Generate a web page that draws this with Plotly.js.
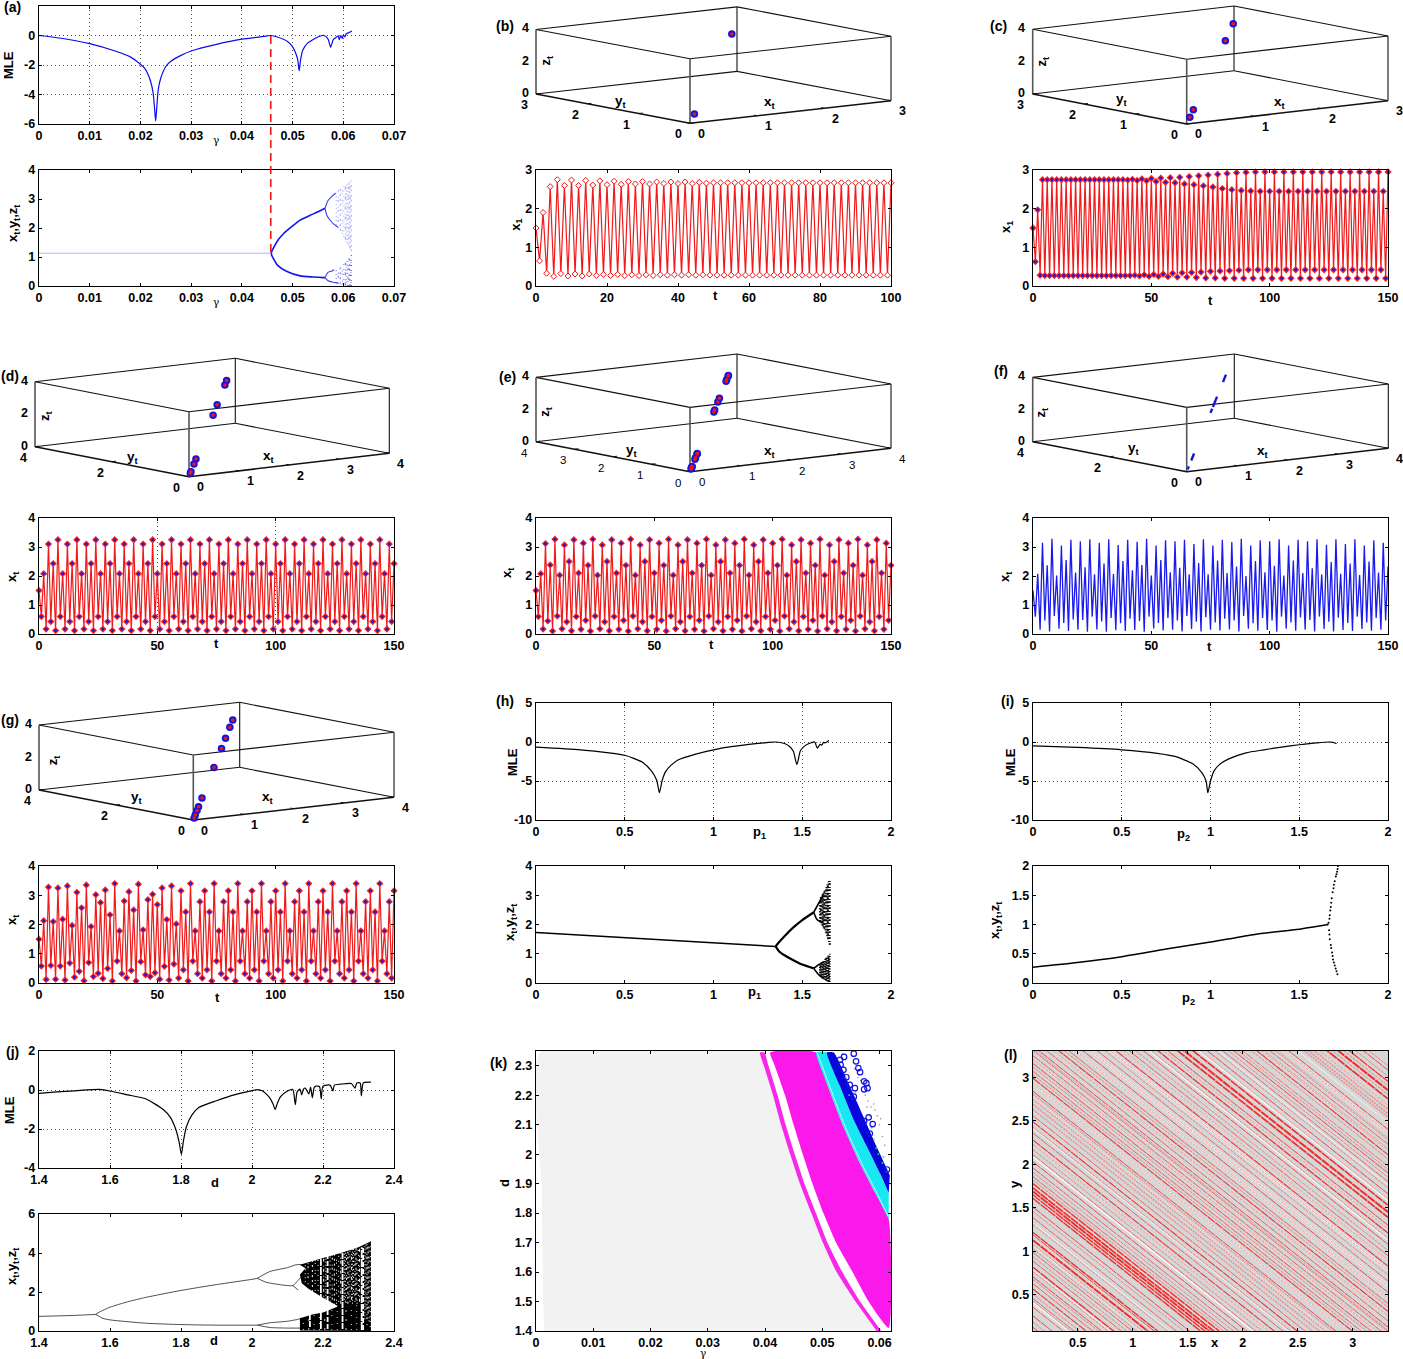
<!DOCTYPE html>
<html><head><meta charset="utf-8">
<script src="https://cdn.plot.ly/plotly-3.0.1.min.js"></script>
<style>html,body{margin:0;padding:0;background:#fff}</style></head>
<body><div id="chart" style="width:1403px;height:1359px"></div>
<script>
/* ===== values ===== */
const aMleG=[0,.005,.01,.015,.018,.02,.021,.0215,.022,.0225,.0228,.023,.0232,.0235,.024,.025,.026,.028,.03,.035,.04,.045,.0457,.047,.049,.05,.0505,.051,.0513,.0516,.052,.053,.055,.0562,.057,.0575,.058,.0585,.059,.0592,.0595,.0598,.06,.0603,.0606,.061,.0617];
const aMleV=[0,-.22,-.55,-1.05,-1.45,-1.95,-2.3,-2.65,-3.1,-3.9,-5,-5.8,-5,-3.7,-2.9,-2.1,-1.75,-1.35,-1.05,-.6,-.25,-.03,0,-.1,-.4,-.75,-1.1,-1.6,-2.4,-1.6,-1,-.5,-.1,0,-.25,-.8,-.3,-.15,-.02,-.3,0,-.2,.05,-.1,.12,.18,.3];
const aFixG=[0,.0458], aFixV=[1.13,1.13];
const aUpG=[.0458,.0459,.0462,.047,.0482,.05,.0515,.0535,.0548,.0564], aUpV=[1.13,1.2,1.3,1.55,1.8,2.07,2.27,2.44,2.54,2.68];
const aLoG=[.0458,.0459,.0462,.047,.0489,.0515,.054,.056,.0564], aLoV=[1.13,1.05,.95,.72,.5,.35,.31,.29,.29];
const aB1G=[.0564,.057,.0578,.0585], aB1V=[2.68,2.95,3.1,3.2];
const aB2G=[.0564,.0568,.0575,.058,.059], aB2V=[2.68,2.42,2.25,2.15,2.02];
const aB3G=[.0564,.057,.0578,.0582], aB3V=[.29,.47,.52,.56];
const aB4G=[.0564,.057,.058,.059], aB4V=[.29,.18,.13,.1];
const aColG=[.0586,.059,.0594,.0598,.0601,.0604,.0607,.0609,.0611,.0613,.0615,.0616];
const aColTop=[3.22,3.3,3.35,3.4,3.44,3.48,3.52,3.54,3.57,3.6,3.62,3.64];
const aColMid=[2.1,2,1.9,1.8,1.7,1.6,1.5,1.45,1.4,1.3,1.25,1.2];
const aColLoTop=[.58,.62,.68,.72,.76,.8,.85,.9,.95,1,1.05,1.1];
const aColBot=[.1,.08,.06,.05,.04,.02,.01,0,0,0,0,0];

const serB=[1.5,.65,1.9,.33,2.57,.25,2.75,.32,2.6,.26,2.74,.31,2.6,.26,2.73,.31,2.61,.27,2.72,.3,2.62,.27,2.71,.3,2.63,.27,2.7,.29,2.64,.27,2.7,.29,2.64,.27,2.69,.29,2.65,.28,2.69,.29,2.65,.28,2.69,.29,2.65,.28,2.68,.29,2.66,.28,
2.67,.28,2.67,.28,2.67,.28,2.67,.28,2.67,.28,2.67,.28,2.67,.28,2.67,.28,2.67,.28,2.67,.28,2.67,.28,2.67,.28,2.67,.28,2.67,.28,2.67,.28,2.67,.28,2.67,.28,2.67,.28,2.67,.28,2.67,.28,2.67,.28,2.67,.28,2.67,.28,2.67,.28,2.67,.28,2.67];
const serC=[1.5,.63,1.97,.28,2.75,.27,2.75,.27,2.75,.27,2.75,.27,2.75,.27,2.75,.27,2.75,.27,2.75,.27,2.75,.27,2.75,.27,2.75,.27,2.75,.27,2.75,.27,2.75,.27,2.75,.27,2.75,.27,2.75,.27,2.75,.27,
2.74,.27,2.76,.28,2.73,.26,2.77,.29,2.72,.25,2.78,.3,2.7,.25,2.79,.31,2.68,.24,2.8,.33,2.67,.23,2.81,.34,2.64,.23,2.83,.35,2.62,.22,2.85,.36,2.59,.21,2.87,.38,2.56,.21,2.89,.39,2.52,.2,2.91,.4,2.49,.2,2.93,.41,2.47,.2,2.94,.42,2.46,.2,2.95,.42,
2.45,.2,2.95,.42,2.45,.2,2.95,.42,2.45,.2,2.95,.42,2.45,.2,2.95,.42,2.45,.2,2.95,.42,2.45,.2,2.95,.42,2.45,.2,2.95,.42,2.45,.2,2.95,.42,2.45,.2,2.95,.42,2.45,.2,2.95,.42,2.45,.2,2.95,.42,2.45,.2,2.95,.42,2.45,.2,2.95,.42,2.45,.2,2.95];
const serD=[1.5,.6,2.08,.17,3.1,.43,2.43,.12,
3.25,.6,2.08,.17,3.1,.43,2.43,.12,3.25,.6,2.08,.17,3.1,.43,2.43,.12,3.25,.6,2.08,.17,3.1,.43,2.43,.12,3.25,.6,2.08,.17,3.1,.43,2.43,.12,3.25,.6,2.08,.17,3.1,.43,2.43,.12,3.25,.6,2.08,.17,3.1,.43,2.43,.12,
3.25,.6,2.08,.17,3.1,.43,2.43,.12,3.25,.6,2.08,.17,3.1,.43,2.43,.12,3.25,.6,2.08,.17,3.1,.43,2.43,.12,3.25,.6,2.08,.17,3.1,.43,2.43,.12,3.25,.6,2.08,.17,3.1,.43,2.43,.12,3.25,.6,2.08,.17,3.1,.43,2.43,.12,
3.25,.6,2.08,.17,3.1,.43,2.43,.12,3.25,.6,2.08,.17,3.1,.43,2.43,.12,3.25,.6,2.08,.17,3.1,.43,2.43,.12,3.25,.6,2.08,.17,3.1,.43,2.43,.12,3.25,.6,2.08,.17,3.1,.43,2.43,.12,3.25,.6,2.08,.17,3.1,.43,2.43];
const serE=[1.5,.6,2.08,.17,3.12,.45,2.38,.1,
3.27,.62,2.03,.18,3.07,.42,2.5,.11,3.25,.6,2.1,.16,3.13,.47,2.37,.1,3.27,.62,2.03,.18,3.07,.42,2.5,.11,3.25,.6,2.1,.16,3.13,.47,2.37,.1,3.27,.62,2.03,.18,3.07,.42,2.5,.11,3.25,.6,2.1,.16,3.13,.47,2.37,.1,
3.27,.62,2.03,.18,3.07,.42,2.5,.11,3.25,.6,2.1,.16,3.13,.47,2.37,.1,3.27,.62,2.03,.18,3.07,.42,2.5,.11,3.25,.6,2.1,.16,3.13,.47,2.37,.1,3.27,.62,2.03,.18,3.07,.42,2.5,.11,3.25,.6,2.1,.16,3.13,.47,2.37,.1,
3.27,.62,2.03,.18,3.07,.42,2.5,.11,3.25,.6,2.1,.16,3.13,.47,2.37,.1,3.27,.62,2.03,.18,3.07,.42,2.5,.11,3.25,.6,2.1,.16,3.13,.47,2.37,.1,3.27,.62,2.03,.18,3.07,.42,2.5,.11,3.25,.6,2.1,.16,3.13,.47,2.37];
const serF=[1.5,.6,2.08,.15,3.15,.47,2.37,.09,3.28,.62,2.02,.18,3.05,.38,2.55,.1,3.25,.5,2.12,.15,3.2,.48,2.3,.08,3.27,.6,2.06,.16,3.15,.43,2.43,.08,3.27,.55,2.07,.13,3.07,.37,2.52,.1,3.25,.53,2.2,.14,3.18,.45,2.38,.08,3.28,.6,2.02,.19,3.05,.38,2.55,.12,3.23,.55,2.13,.15,3.2,.47,2.28,.09,3.25,.62,2.06,.17,3.1,.42,2.45,.09,3.27,.58,2.06,.15,3.05,.4,2.53,.12,3.25,.53,2.1,.16,3.17,.47,2.33,.09,3.28,.62,2,.18,3.05,.37,2.52,.11,3.23,.55,2.13,.14,3.2,.47,2.35,.08,3.27,.6,2.02,.18,3.05,.4,2.53,.11,3.25,.57,2.1,.15,3.2,.48,2.27,.09,3.27,.6,2.05,.17,3.08,.42,2.48,.09,3.27,.56,2.08,.14,3.1,.38,2.43,.1,3.27,.6,2.03,.17,3.05,.4,2.5,.11,3.23,.55,2.12,.15,3.15,.47,2.33];
const serG=[1.5,.58,2.13,.12,3.28,.6,2.1,.13,3.25,.58,2.18,.1,3.32,.68,1.97,.2,3.1,.4,2.57,.08,3.35,.7,1.93,.22,3.02,.33,2.75,.15,3.18,.5,2.33,.07,3.4,.75,1.78,.32,2.8,.18,3.12,.43,2.5,.07,3.38,.73,1.82,.28,2.85,.22,3.03,.35,2.68,.13,3.25,.57,2.17,.1,3.32,.65,2.02,.17,
3.15,.45,2.43,.07,3.4,.75,1.78,.32,2.78,.17,3.15,.45,2.43,.07,3.4,.75,1.78,.32,2.78,.17,3.15,.45,2.43,.07,3.4,.75,1.78,.32,2.78,.17,3.15,.45,2.43,.07,3.4,.75,1.78,.32,2.78,.17,3.15,.45,2.43,.07,3.4,.75,1.78,.32,2.78,.17,
3.15,.45,2.43,.07,3.4,.75,1.78,.32,2.78,.17,3.15,.45,2.43,.07,3.4,.75,1.78,.32,2.78,.17,3.15,.45,2.43,.07,3.4,.75,1.78,.32,2.78,.17,3.15,.45,2.43,.07,3.4,.75,1.78,.32,2.78,.17,3.15];

const lvB=[.28,2.67], lvC=[.2,.42,2.45,2.95], lvD=[.12,.17,.43,.6,2.08,2.43,3.1,3.25];
const lvE=[.1,.11,.16,.18,.42,.47,.6,.62,2.03,2.1,2.37,2.5,3.07,3.13,3.25,3.27];
const lvG=[.07,.17,.32,.45,.75,1.78,2.43,2.78,3.15,3.4];
const lvFseg=[[.08,.18],[.38,.62],[2.0,2.14],[2.2,2.55],[3.05,3.3]];

const hMleP=[0,.25,.4,.5,.55,.6,.65,.68,.695,.71,.73,.76,.8,.9,1,1.1,1.2,1.3,1.35,1.4,1.43,1.45,1.47,1.49,1.52,1.55,1.57,1.585,1.6,1.61,1.62,1.63,1.65];
const hMleV=[-.65,-1,-1.35,-1.7,-2.1,-2.6,-3.7,-4.9,-6.5,-5,-3.8,-3,-2.3,-1.55,-1,-.6,-.3,-.08,0,-.2,-.6,-1.2,-2.9,-1.1,-.4,-.1,0,-.8,-.3,-.4,-.05,-.1,.2];
const hFixP=[0,1.35], hFixV=[1.73,1.25];
const hUpP=[1.35,1.37,1.4,1.45,1.5,1.565], hUpV=[1.25,1.4,1.6,1.9,2.15,2.42];
const hLoP=[1.35,1.37,1.4,1.45,1.5,1.565], hLoV=[1.25,1.08,.95,.78,.63,.5];
const hB1P=[1.565,1.59,1.62], hB1V=[2.42,2.7,3];
const hB2P=[1.565,1.58,1.6,1.62], hB2V=[2.42,2.2,2.1,2.1];
const hB3P=[1.565,1.59,1.62], hB3V=[.5,.62,.72];
const hB4P=[1.565,1.59,1.62], hB4V=[.5,.3,.15];
const hColP=[1.6,1.605,1.61,1.615,1.62,1.625,1.63,1.635,1.64,1.645,1.65,1.655];
const hColTop=[2.85,2.95,3,3.05,3.1,3.17,3.23,3.3,3.37,3.43,3.5,3.55];
const hColMid=[2.1,2.05,2,1.95,1.9,1.85,1.8,1.7,1.6,1.5,1.4,1.3];
const hColLoTop=[.62,.65,.68,.72,.76,.8,.83,.87,.9,.93,.97,1];
const hColBot=[.25,.22,.2,.17,.15,.12,.1,.08,.06,.05,.04,.03];

const iMleP=[0,.25,.5,.7,.8,.9,.95,.975,.985,1,1.02,1.05,1.1,1.2,1.3,1.4,1.5,1.6,1.67,1.69,1.71];
const iMleV=[-.5,-.7,-1,-1.45,-1.85,-2.8,-3.9,-5,-6.5,-5,-3.7,-2.9,-2.2,-1.4,-1,-.65,-.35,-.1,0,-.05,-.2];
const iFixP=[0,.25,.5,.75,1,1.25,1.5,1.66], iFixV=[.27,.35,.45,.58,.7,.83,.92,1];
const iDotP=[1.66,1.665,1.67,1.672,1.675,1.678,1.68,1.683,1.688,1.693,1.695,1.7,1.706,1.71,1.713,1.716,1.718,1.668,1.67,1.672,1.678,1.68,1.685,1.688,1.69,1.695,1.7,1.705,1.71,1.715];
const iDotV=[1,1.03,1.1,1.16,1.24,1.3,1.37,1.45,1.55,1.62,1.68,1.74,1.82,1.86,1.9,1.95,2,.9,.83,.75,.65,.6,.52,.46,.4,.35,.3,.25,.2,.15];

const jMleD=[1.4,1.45,1.5,1.55,1.57,1.6,1.65,1.7,1.75,1.77,1.785,1.795,1.801,1.807,1.815,1.83,1.85,1.9,1.95,2,2.015,2.03,2.05,2.06,2.065,2.072,2.08,2.1,2.115,2.122,2.127,2.135,2.14,2.145,2.15,2.16,2.165,2.17,2.175,2.18,2.19,2.195,2.2,2.22,2.228,2.232,2.25,2.28,2.29,2.295,2.3,2.305,2.308,2.312,2.315,2.335];
const jMleV=[-.17,-.1,-.04,.02,.03,-.05,-.25,-.45,-1,-1.4,-2,-2.7,-3.3,-2.6,-1.9,-1.3,-.9,-.55,-.25,-.03,.02,-.05,-.4,-.75,-1,-.65,-.35,-.05,.03,-.75,-.1,.05,-.25,.05,.1,-.2,.15,-.4,.12,.2,.18,-.45,.2,.25,-.05,.25,.3,.33,.1,.35,.38,.35,-.3,.3,.38,.4];
const jFixD=[1.4,1.5,1.56], jFixV=[.75,.8,.85];
const jUpD=[1.56,1.57,1.6,1.65,1.7,1.8,1.9,2,2.015], jUpV=[.85,.97,1.22,1.5,1.72,2.08,2.38,2.65,2.7];
const jLoD=[1.56,1.58,1.6,1.7,1.8,1.9,2.015], jLoV=[.85,.65,.57,.4,.33,.3,.3];
const jB1D=[2.015,2.05,2.1,2.125,2.14], jB1V=[2.7,3.05,3.25,3.4,3.4];
const jB2D=[2.015,2.04,2.07,2.115,2.13,2.14], jB2V=[2.7,2.5,2.4,2.33,2.6,2.8];
const jB5D=[2.115,2.13], jB5V=[2.33,2.1];
const jB3D=[2.015,2.05,2.1,2.13,2.14], jB3V=[.3,.42,.5,.6,.65];
const jB4D=[2.015,2.05,2.1,2.14], jB4V=[.3,.18,.15,.15];
const jCloudD=[2.135,2.16,2.2,2.25,2.3,2.335,2.335,2.135,2.135,2.17,2.2,2.24,2.24,2.2,2.16,2.14,2.135,2.15,2.16];
const jCloudV=[3.4,3.55,3.75,4,4.3,4.6,0,.03,.65,.85,.95,1.25,1.3,1.7,2.15,2.45,2.9,3.2,3.1];
const jGapD=[2.163,2.194,2.213,2.255,2.309,2.313];
const jGapLo=[.2,.1,.1,.1,.05,.05], jGapHi=[.9,3.7,3.85,4.05,4.3,4.3];
const jSpeckD=[2.15,2.158,2.17,2.178,2.186,2.202,2.208,2.22,2.226,2.232,2.238,2.244,2.25,2.26,2.263,2.266,2.27,2.273,2.276,2.28,2.283,2.286,2.29,2.293,2.296,2.3,2.303,2.318,2.321,2.324,2.327,2.33,2.333];
const jSpeckLo=[2.5,2.4,2,1.9,1.8,1.5,1.5,1.3,1.3,1.3,1.4,1.5,1.4,1.6,1.5,1.8,1.4,1.7,1.5,1.6,1.4,1.9,1.5,1.6,1.4,1.8,1.5,.6,1.1,.3,.9,.5,.2];
const jSpeckHi=[3.5,3.6,3.65,3.7,3.72,3.8,3.85,3.9,3.93,3.95,3.98,4,4.03,4.08,4.09,4.1,4.13,4.15,4.17,4.2,4.21,4.23,4.25,4.27,4.28,4.3,4.32,4.4,4.43,4.45,4.5,4.53,4.55];
const jLowD=[2.145,2.16,2.175,2.19,2.205,2.225,2.24,2.265,2.28,2.295];
const jLowLo=[.05,.05,.05,.05,.05,.05,.05,.05,.05,.05];
const jLowHi=[.6,.72,.85,.9,1,1.15,1.3,1.5,1.4,1.5];

/* (k) region boundaries */
const kBand1D=[1.4,1.5,1.6,1.7,1.8,1.9,2,2.1,2.2,2.3,2.345];
const kBand1L=[.0595,.0558,.0525,.0501,.0481,.0461,.0444,.0428,.0414,.0398,.0391];
const kBand1R=[.0603,.0566,.0535,.0509,.0489,.0469,.0452,.0436,.0422,.0406,.0399];
const kMainD=[1.41,1.5,1.6,1.7,1.8,1.9,2,2.1,2.2,2.3,2.345];
const kMainL=[.0616,.0581,.0553,.0524,.0502,.0483,.0466,.045,.0435,.0417,.0409];
const kMainRD=[1.78,1.877,1.968,2.093,2.24,2.345];
const kMainRG=[.0616,.059,.0566,.0537,.0508,.0489];
const kCyanRD=[1.868,1.934,2.025,2.116,2.23,2.345];
const kCyanRG=[.0616,.0601,.0578,.0555,.0531,.0508];
const kBlueRD=[1.928,2.025,2.127,2.24,2.345];
const kBlueRG=[.0618,.0595,.0572,.0546,.052];
const kInnerG=[.0491,.0511,.054,.0569,.0593,.0615], kInnerD=[2.345,2.24,2.093,1.968,1.877,1.79];
const kGreyLD=[1.4,1.6,1.9,2.345], kGreyLG=[.0014,.0012,.001,.0007];
const kCircG=[.0555,.0559,.0563,.0566,.0573,.0577,.0579,.0573,.0557,.0555,.0531,.0538,.0532,.0537,.0542,.0548,.0581,.0573,.0588,.0583,.0613];
const kCircD=[2.341,2.315,2.292,2.278,2.247,2.241,2.224,2.22,2.224,2.195,2.32,2.33,2.303,2.286,2.261,2.235,2.125,2.112,2.102,2.07,1.948];
const kGreenG=[.0535,.0541,.0547,.0582,.0586,.059,.0594,.0598,.0605,.0607,.0612];
const kGreenD=[2.34,2.26,2.2,2.13,2.09,2.05,2.02,2,1.97,1.99,1.94];
const kTinyG=[.0556,.0562,.0567,.0575,.058,.0585,.059,.0596,.06,.0605,.0592,.0602,.0609,.0578,.0558];
const kTinyD=[2.29,2.26,2.25,2.2,2.18,2.16,2.17,2.13,2.1,2.06,2.15,2.12,2.03,2.16,2.21];

/* (l) diagonal streaks: x+y = c */
const lRedC=[.22,.35,.45,.55,.66,.72,.8,.91,.98,1.08,1.22,1.31,1.28,1.48,1.6,1.7,1.74,1.78,1.82,1.87,1.95,2.05,2.12,2.2,2.37,2.45,2.58,2.65,2.93,3.08,3.16,3.25,3.34,3.45,3.52,3.63,3.72,3.85,3.98,4.15,4.27,4.4,4.53,4.62,4.71,4.77,4.85,4.98,5.12,5.22,5.3,5.43,5.55,5.72,6.07,6.17,6.27,6.4];
const lRedW=[1,1,.8,.8,1.2,.8,1,1.6,.8,.8,2.2,1.6,1,.8,1,1.6,1.6,2.2,2,1.6,.8,.8,1,.8,1.2,.8,1.2,.8,1,1.2,.8,1,.8,1,.8,1.2,.8,1,.8,1.2,.8,1,1.4,1,2,2.4,1.8,1,.8,1,.8,1.2,.8,1,2,2.4,1.4,1];
const lThinC=[.28,.52,.6,.77,.86,1.03,1.12,1.17,1.4,1.55,1.91,2,2.26,2.32,2.52,3.02,3.12,3.21,3.3,3.4,3.58,3.68,3.78,3.92,4.05,4.1,4.22,4.33,4.47,4.58,5.05,5.17,5.26,5.38,5.48,5.6,5.68,6,6.12,6.22,6.33,6.45];
const lPaleC=[2.72,2.78,2.84,2.9,5.5,5.62,5.86,5.9,5.95,4.92,3.42,3.4];
const lPaleW=[1.4,1.6,1.6,1.4,1,1,1.6,1.8,1.6,1,1,1];
const lWhiteC=[.5,.88,1.16,1.42,2.18,2.32,2.5,2.85,3.02,3.3,3.58,3.78,3.92,4.1,4.22,4.45,4.58,4.9,5.08,5.3,5.48,5.68,5.8,6];
const lWhiteW=[1.5,1,1,1,2,1,1,1,1.5,1,1,1.5,2,2,1,1.5,1,1.5,1,1,1,1.5,1,1];

/* tick lists */
const tkGamma=[0,.01,.02,.03,.04,.05,.06,.07], tkGammaT=['0','0.01','0.02','0.03','0.04','0.05','0.06','0.07'];
const tkMleA=[-6,-4,-2,0,2], tk04=[0,1,2,3,4], tk03=[0,1,2,3];
const tkT100=[0,20,40,60,80,100], tkT150=[0,50,100,150];
const tkP=[0,.5,1,1.5,2], tkPT=['0','0.5','1','1.5','2'];
const tkMleP=[-10,-5,0,5], tkY2=[0,.5,1,1.5,2], tkY2T=['0','0.5','1','1.5','2'];
const tkD=[1.4,1.6,1.8,2,2.2,2.4], tkDT=['1.4','1.6','1.8','2','2.2','2.4'];
const tkMleJ=[-4,-2,0,2], tk06=[0,2,4,6];
const tkKx=[0,.01,.02,.03,.04,.05,.06], tkKxT=['0','0.01','0.02','0.03','0.04','0.05','0.06'];
const tkKy=[1.4,1.5,1.6,1.7,1.8,1.9,2,2.1,2.2,2.3], tkKyT=['1.4','1.5','1.6','1.7','1.8','1.9','2','2.1','2.2','2.3'];
const tkL=[.5,1,1.5,2,2.5,3], tkLT=['0.5','1','1.5','2','2.5','3'];

/* ===== construction ===== */
const W=1403,H=1359,FONT='"Liberation Sans",Arial,sans-serif';
const traces=[],annots=[],layout={width:W,height:H,margin:{l:0,r:0,t:0,b:0},paper_bgcolor:'#fff',plot_bgcolor:'rgba(0,0,0,0)',showlegend:false,font:{family:FONT},shapes:[],annotations:annots};
let nAx=0;
function axes(box,xr,yr,xt,xtt,yt,ytt,grid){
  nAx++; const n=nAx===1?'':nAx;
  const base={showline:true,linecolor:'#000',linewidth:1.4,mirror:'ticks',ticks:'inside',ticklen:3,tickwidth:1,tickcolor:'#000',zeroline:false,
    tickfont:{family:FONT,size:12.5,color:'#000',weight:700},griddash:'1px,3px',gridcolor:'#555',gridwidth:1,tickmode:'array',fixedrange:true};
  layout['xaxis'+n]=Object.assign({},base,{domain:[box[0]/W,box[1]/W],range:xr,anchor:'y'+n,tickvals:xt,ticktext:xtt||xt.map(String),showgrid:!!(grid&&grid.x)});
  layout['yaxis'+n]=Object.assign({},base,{domain:[1-box[3]/H,1-box[2]/H],range:yr,anchor:'x'+n,tickvals:yt,ticktext:ytt||yt.map(String),showgrid:!!(grid&&grid.y)});
  return {x:'x'+n,y:'y'+n};
}
function line(a,x,y,color,w,extra){traces.push(Object.assign({type:'scatter',mode:'lines',x,y,xaxis:a.x,yaxis:a.y,line:{color,width:w},hoverinfo:'skip'},extra||{}));}
function curve(a,x,y,color,w){line(a,x,y,color,w,{line:{color,width:w,shape:'spline',smoothing:.6}});}
function poly(a,x,y,fill,smooth){traces.push({type:'scatter',mode:'lines',x,y,xaxis:a.x,yaxis:a.y,fill:'toself',fillcolor:fill,line:smooth?{width:0,color:fill,shape:'spline',smoothing:.5}:{width:0,color:fill},hoverinfo:'skip'});}
function dots(a,x,y,color,size,sym,extra){traces.push(Object.assign({type:'scatter',mode:'markers',x,y,xaxis:a.x,yaxis:a.y,marker:{color,size,symbol:sym||'circle',line:{width:0}},cliponaxis:false,hoverinfo:'skip'},extra||{}));}
const DASHES=['1px,3px','1px,5px,2px,2px','2px,3px','1px,2px,1px,6px','1px,4px','3px,2px,1px,4px','1px,2px'];
function cols(a,xs,lo,hi,color,w,dashes){xs.forEach((v,i)=>{const d=dashes?dashes[i%dashes.length]:'solid';line(a,[v,v],[lo[i],hi[i]],color,w,{line:{color,width:w,dash:d}});});}
function txt(px,py,text,o){o=o||{};annots.push({xref:'paper',yref:'paper',x:px/W,y:1-py/H,text,showarrow:false,borderpad:0,xanchor:o.anchor||'center',yanchor:'middle',textangle:o.angle||0,font:{family:o.family||FONT,size:o.size||13,color:'#000',weight:o.weight||700}});}
const T=s=>s.map((_,i)=>i);
const XYZ='x<sub>t</sub>,y<sub>t</sub>,z<sub>t</sub>';

/* (a) */
let A=axes([39,394,6,124],[0,.07],[-6,2],tkGamma,tkGammaT,tkMleA,null,{x:1,y:1});
curve(A,aMleG,aMleV,'#0a0af0',1.2);
const aTopX=A.x;
A=axes([39,394,170,286],[0,.07],[0,4],tkGamma,tkGammaT,tk04,null);
line(A,aFixG,aFixV,'#b4b4fa',1);
[[aUpG,aUpV],[aLoG,aLoV]].forEach(p=>curve(A,p[0],p[1],'#1414ee',1.6));
[[aB1G,aB1V],[aB2G,aB2V],[aB3G,aB3V],[aB4G,aB4V]].forEach(p=>curve(A,p[0],p[1],'#3a3af0',1.1));
cols(A,aColG,aColMid,aColTop,'rgba(40,40,240,.45)',1,DASHES);
cols(A,aColG,aColBot,aColLoTop,'rgba(40,40,240,.7)',1,DASHES);
layout.shapes.push({type:'line',xref:aTopX,yref:'paper',x0:.0457,x1:.0457,y0:1-36/H,y1:1-253/H,line:{color:'#f01414',width:1.6,dash:'8px,5px'},layer:'above'});

/* time series */
function series(box,yr,xt,yt,ser,mode,grid){
  const a=axes(box,[0,ser.length-1],yr,xt,null,yt,null,grid);
  if(mode==='blue'){line(a,T(ser),ser,'#1a1aee',1.3);return;}
  line(a,T(ser),ser,'#f01a1a',1.2);
  if(mode==='open') dots(a,T(ser),ser,'#fff',4.5,'diamond',{marker:{color:'#fff',size:4.6,symbol:'diamond',line:{color:'#f01414',width:1}}});
  else{dots(a,T(ser),ser,'#f52020',5.6,'diamond');dots(a,T(ser),ser,'#1a1add',3);}
}
series([536,891,170,286],[0,3],tkT100,tk03,serB,'open');
series([1033,1388,170,286],[0,3],tkT150,tk03,serC,'full');
series([39,394,518,634],[0,4],tkT150,tk04,serD,'full',{x:1});
series([536,891,518,634],[0,4],tkT150,tk04,serE,'full');
series([1033,1388,518,634],[0,4],tkT150,tk04,serF,'blue');
series([39,394,866,983],[0,4],tkT150,tk04,serG,'full');

/* (h) */
A=axes([536,891,703,820],[0,2],[-10,5],tkP,tkPT,tkMleP,null,{x:1,y:1});
curve(A,hMleP,hMleV,'#000',1.2);
A=axes([536,891,866,983],[0,2],[0,4],tkP,tkPT,tk04,null);
line(A,hFixP,hFixV,'#000',1.5);
[[hUpP,hUpV],[hLoP,hLoV]].forEach(p=>curve(A,p[0],p[1],'#000',2.2));
[[hB1P,hB1V],[hB2P,hB2V],[hB3P,hB3V],[hB4P,hB4V]].forEach(p=>curve(A,p[0],p[1],'#000',1.6));
cols(A,hColP,hColMid,hColTop,'rgba(0,0,0,.85)',2,['1.5px,1.5px','2px,2px','1px,2px','2px,1px,1px,2px']);
cols(A,hColP,hColBot,hColLoTop,'rgba(0,0,0,.9)',2,['1.5px,1px','2px,1px','1px,1.5px']);

/* (i) */
A=axes([1033,1388,703,820],[0,2],[-10,5],tkP,tkPT,tkMleP,null,{x:1,y:1});
curve(A,iMleP,iMleV,'#000',1.2);
A=axes([1033,1388,866,983],[0,2],[0,2],tkP,tkPT,tkY2,tkY2T);
curve(A,iFixP,iFixV,'#000',1.5);
dots(A,iDotP,iDotV,'#000',2);

/* (j) */
A=axes([39,394,1051,1168],[1.4,2.4],[-4,2],tkD,tkDT,tkMleJ,null,{x:1,y:1});
curve(A,jMleD,jMleV,'#000',1.2);
A=axes([39,394,1214,1331],[1.4,2.4],[0,6],tkD,tkDT,tk06,null);
[[jFixD,jFixV],[jUpD,jUpV],[jLoD,jLoV],[jB1D,jB1V],[jB2D,jB2V],[jB5D,jB5V],[jB3D,jB3V],[jB4D,jB4V]].forEach(p=>curve(A,p[0],p[1],'#222',.8));
poly(A,jCloudD,jCloudV,'#000');
cols(A,jSpeckD,jSpeckLo,jSpeckHi,'#fff',1,DASHES);
cols(A,jLowD,jLowLo,jLowHi,'#fff',.8,['1px,5px','2px,7px','1px,4px,1px,8px']);
cols(A,jGapD,jGapLo,jGapHi,'#fff',1.8,['6px,1px','8px,1px','5px,2px']);

/* (k) */
A=axes([536,891,1051,1331],[0,.062],[1.4,2.35],tkKx,tkKxT,tkKy,tkKyT);
const rv=a=>a.slice().reverse();
poly(A,kGreyLG.concat(rv(kBand1L)),kGreyLD.concat(rv(kBand1D)),'#f2f2f2',true);
poly(A,kBand1L.concat(rv(kBand1R)),kBand1D.concat(rv(kBand1D)),'#f828e8',true);
poly(A,kMainL.concat(rv(kMainRG),[.0616]),kMainD.concat(rv(kMainRD),[1.41]),'#fa18ea',true);
poly(A,kMainRG.concat(rv(kCyanRG)),kMainRD.concat(rv(kCyanRD)),'#18e8f2',true);
poly(A,kCyanRG.concat(rv(kBlueRG)),kCyanRD.concat(rv(kBlueRD)),'#0505dc',true);
curve(A,kInnerG,kInnerD,'rgba(255,255,255,.75)',1);
dots(A,kTinyG,kTinyD,'#8888aa',1.5);
dots(A,kGreenG,kGreenD,'#30e040',1.8);
traces.push({type:'scatter',mode:'markers',x:kCircG,y:kCircD,xaxis:A.x,yaxis:A.y,marker:{size:5.5,color:'rgba(0,0,0,0)',line:{color:'#1414dc',width:1.2}},hoverinfo:'skip'});

/* (l) */
const lX=[.093,3.32],lY=[.085,3.3];
A=axes([1033,1388,1051,1331],lX,lY,tkL,tkLT,tkL,tkLT);
layout.shapes.push({type:'rect',xref:A.x,yref:A.y,x0:lX[0],x1:lX[1],y0:lY[0],y1:lY[1],fillcolor:'#d6d6d6',line:{width:0},layer:'below'});
function streaks(cs,ws,color,dash,k){cs.forEach((c,i)=>{const w=(Array.isArray(ws)?ws[i]:ws)*(k||1);line(A,[lX[0],lX[1]],[c-lX[0],c-lX[1]],color,w,{line:{color,width:w,dash:dash||'solid'}});});}
streaks(lWhiteC,lWhiteW,'rgba(245,245,245,.9)');
streaks(lPaleC,lPaleW,'rgba(250,90,90,.55)','2px,1px');
streaks(lThinC,.6,'rgba(245,40,40,.8)','3px,1px');
streaks(lRedC,lRedW,'#f52a2a','9px,.7px',.85);

/* overlay for the box views */
nAx++; const ov={x:'x'+nAx,y:'y'+nAx};
layout['xaxis'+nAx]={domain:[0,1],range:[0,W],visible:false,anchor:ov.y,fixedrange:true};
layout['yaxis'+nAx]={domain:[0,1],range:[H,0],visible:false,anchor:ov.x,fixedrange:true};
function box3d(o){
  const P=(x,y,z)=>[o.O[0]+x/o.xm*o.Ax[0]+y/o.ym*o.Ay[0],o.O[1]+x/o.xm*o.Ax[1]+y/o.ym*o.Ay[1]-z/o.zm*o.h];
  const seg=(a,b,c,w)=>{const p=P(...a),q=P(...b);line(ov,[p[0],q[0]],[p[1],q[1]],c,w);};
  const X=o.xm,Y=o.ym,Z=o.zm;
  [[[0,Y,Z],[0,0,Z]],[[0,0,Z],[X,0,Z]],[[X,0,Z],[X,Y,Z]],[[X,Y,Z],[0,Y,Z]],[[0,Y,0],[X,Y,0]],[[X,Y,0],[X,0,0]],[[X,Y,0],[X,Y,Z]],[[X,0,0],[X,0,Z]]].forEach(s=>seg(s[0],s[1],'#111',1.1));
  seg([0,Y,0],[0,Y,Z],'#555',1.6); seg([0,0,0],[0,0,Z],'#555',1.6);
  seg([0,0,0],[X,0,0],'#111',1.5); seg([0,0,0],[0,Y,0],'#111',1.5);
  const fs=o.small?{size:11.5,weight:400}:{size:12.5};
  o.xt.forEach(v=>{const p=P(v,0,0);txt(p[0]+11.5,p[1]+10.5,String(v),fs);seg([v,0,0],[v,.02*Y,0],'#111',1);});
  o.yt.forEach(v=>{const p=P(0,v,0);txt(p[0]-12,p[1]+11,String(v),fs);seg([0,v,0],[.02*X,v,0],'#111',1);});
  o.zt.forEach(v=>{const p=P(0,Y,v);txt(p[0]-11,p[1]-1,String(v),{size:12.5});});
  if(o.lv){const pts=o.lv.map(a=>P(a,a,a));
    dots(ov,pts.map(p=>p[0]),pts.map(p=>p[1]),'#1414dc',7.5);
    dots(ov,pts.map(p=>p[0]),pts.map(p=>p[1]),'#f01414',3.6);}
  if(o.segs){o.segs.forEach(s=>{const p=P(s[0],s[0],s[0]),q=P(s[1],s[1],s[1]);line(ov,[p[0],q[0]],[p[1],q[1]],'#1414dc',2.4);});}
  txt(o.lx[0],o.lx[1],'x<sub>t</sub>',{size:13.5});
  txt(o.ly[0],o.ly[1],'y<sub>t</sub>',{size:13.5});
  txt(o.lz[0],o.lz[1],'z<sub>t</sub>',{size:13,angle:-90});
}
const g3=[0,1,2,3],g4=[0,1,2,3,4],g42=[0,2,4];
box3d({O:[690,123.3],Ax:[201,-22.6],Ay:[-154,-29.3],h:64.5,xm:3,ym:3,zm:4,xt:g3,yt:g3,zt:g42,lv:lvB,lx:[770,103],ly:[621,101],lz:[546.7,60.7]});
box3d({O:[1186.7,124],Ax:[201.3,-23.3],Ay:[-154,-30],h:64.7,xm:3,ym:3,zm:4,xt:g3,yt:g3,zt:g42,lv:lvC,lx:[1280,103],ly:[1121.7,100],lz:[1042.7,61.7]});
box3d({O:[189,476.7],Ax:[200.3,-23.4],Ay:[-154,-30],h:65,xm:4,ym:4,zm:4,xt:g4,yt:g42,zt:g42,lv:lvD,lx:[269.3,456.7],ly:[133.3,457.3],lz:[45,416]});
box3d({O:[690,471.7],Ax:[201,-23.4],Ay:[-154,-30],h:64.3,xm:4,ym:4,zm:4,xt:g4,yt:g4,zt:g42,small:true,lv:lvE,lx:[770,451.7],ly:[631.7,450],lz:[546,411.7]});
box3d({O:[1186.7,471.7],Ax:[201.6,-23.4],Ay:[-154,-30],h:64.3,xm:4,ym:4,zm:4,xt:g4,yt:g42,zt:g42,segs:lvFseg,lx:[1262.7,451.7],ly:[1134.3,448.3],lz:[1041.7,412.7]});
box3d({O:[193.3,820],Ax:[200.7,-22.7],Ay:[-154.3,-30],h:65,xm:4,ym:4,zm:4,xt:g4,yt:g42,zt:g42,lv:lvG,lx:[268.3,797.3],ly:[136.7,797.3],lz:[53.3,760]});

/* titles */
const SERIF='"DejaVu Serif","Liberation Serif",serif';
const lab=[['(a)',12,7],['(b)',505,26],['(c)',998,26],['(d)',10,376],['(e)',507,377],['(f)',1001,371],['(g)',10,720],['(h)',505,701],['(i)',1007,701],['(j)',12,1052],['(k)',498,1063],['(l)',1010,1055]];
lab.forEach(l=>txt(l[1],l[2],l[0],{size:14}));
const gam=[[216,140],[216,302],[703,1353]];
gam.forEach(g=>txt(g[0],g[1],'γ',{size:10.5,weight:400,family:SERIF}));
const rot=[['MLE',9,65],[XYZ,13,224],['x<sub>1</sub>',516.7,225],['x<sub>1</sub>',1006,227],['x<sub>t</sub>',12,577],['x<sub>t</sub>',508,573],['x<sub>t</sub>',1005,577],['x<sub>t</sub>',12,920],['MLE',512,762],[XYZ,510,923],['MLE',1010,762],[XYZ,995,920],['MLE',9,1110],[XYZ,12,1267],['d',504,1183],['y',1014,1184]];
rot.forEach(r=>txt(r[1],r[2],r[0],{angle:-90,size:13}));
const hor=[['t',715,295],['t',1210,300],['t',216,643],['t',711,644],['t',1209,646],['t',217,997],['p<sub>1</sub>',759,832],['p<sub>1</sub>',754,992],['p<sub>2</sub>',1183,835],['p<sub>2</sub>',1188,998],['d',215,1182],['d',214,1340],['x',1215,1342]];
hor.forEach(r=>txt(r[1],r[2],r[0],{size:13}));

Plotly.newPlot('chart',traces,layout,{staticPlot:true,displayModeBar:false});
</script></body></html>
